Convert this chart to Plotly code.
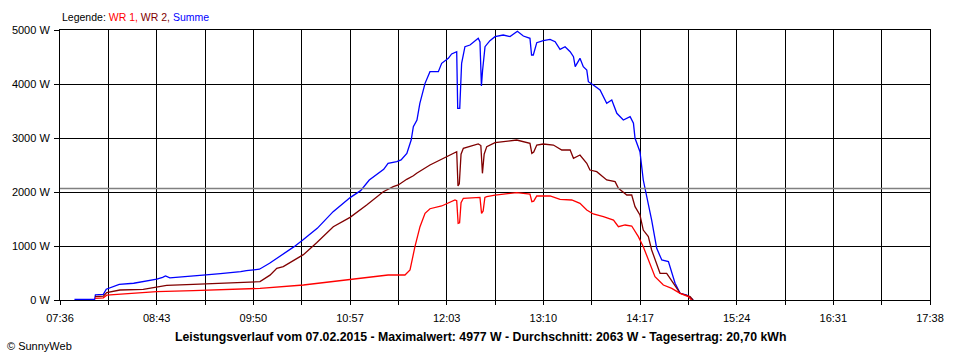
import plotly.graph_objects as go

# ---- data (time in minutes since midnight, power in W) ----
summe_t = [466, 474, 480, 480.5, 486, 488, 497, 507, 514, 523, 527, 529, 532, 544, 557, 567, 572, 581, 585, 594,
           601, 606, 610, 618, 624, 634, 645, 657, 664, 670, 680, 683, 689, 692, 696, 699, 700.5, 703, 705,
           708.6, 712, 717.8, 720.1, 724.7, 727, 730.5, 731.2, 732.6, 733.9, 736.2, 739.7, 745.4, 746.6, 747.6,
           748.4, 750.1, 753.5, 757, 762.7, 767.4, 772.5, 776.6, 781.2, 782.3, 783.5, 785.9, 790.4, 795.1, 798.6,
           802, 805.5, 809, 811.3, 812.5, 815.8, 818.1, 820.5, 821.6, 825, 829.7, 834.3, 837.8, 841.3, 845.8,
           850.5, 852.8, 853.9, 857.3, 859.6, 862, 865.4, 868.9, 872.4, 877, 879.3, 881.6, 885.1, 889.7, 894.2]
summe_w = [10, 5, 10, 95, 105, 200, 290, 310, 340, 385, 420, 444, 410, 432, 465, 490, 500, 525, 545, 570,
           680, 770, 835, 988, 1111, 1327, 1636, 1901, 2025, 2222, 2420, 2531, 2562, 2593, 2716, 2963, 3210, 3333, 3642,
           4012, 4228, 4228, 4383, 4475, 4556, 4598, 3549, 3549, 4383, 4691, 4722, 4846, 4780, 3963,
           4250, 4691, 4802, 4877, 4907, 4877, 4977, 4889, 4846, 4537, 4537, 4765, 4802, 4827, 4784,
           4642, 4691, 4598, 4506, 4321, 4475, 4321, 4259, 4043, 3981, 3889, 3642, 3704, 3457, 3333,
           3395, 3272, 2994, 2747, 2222, 1913, 1481, 957, 741, 710, 494, 309, 124, 93, 0]

wr2_t = [480.2, 486, 488.3, 497.5, 513.6, 522.9, 529.8, 548.2, 566.7, 580.6, 594.4, 601.3, 606, 610.5, 624.4,
         633.6, 645.1, 656.7, 668.2, 679.7, 686.6, 690.1, 695.9, 700.5, 702.8, 712, 723.6, 730.5, 731.4, 732.3,
         733.5, 735.1, 745.4, 747.2, 748.3, 749.5, 751.3, 757, 772, 781.2, 782.5, 783.8, 785.9, 790.4, 797.4,
         803.2, 809, 811.3, 815.8, 820.5, 822.7, 827.4, 834.3, 840.1, 842.4, 848.2, 851.6, 853.9, 857.3, 859.6,
         863.1, 865.4, 871.2, 875.8, 880.5, 885.1, 892, 894]
wr2_w = [62, 70, 136, 185, 198, 240, 272, 290, 309, 327, 340, 460, 586, 617, 840,
         1060, 1358, 1530, 1759, 2006, 2099, 2130, 2235, 2300, 2346, 2500, 2654, 2747, 2111, 2150,
         2700, 2809, 2889, 2860, 2346, 2700, 2840, 2914, 2963, 2900, 2716, 2740, 2870, 2889, 2870,
         2778, 2778, 2624, 2685, 2531, 2407, 2377, 2222, 2191, 2068, 1944, 1944, 1728, 1574, 1296,
         1173, 926, 494, 494, 309, 124, 62, 0]

wr1_t = [480.2, 486, 488.3, 497.5, 506.7, 522.9, 548.2, 572.3, 594.4, 624.4, 656.7, 679.7, 683, 694.7, 698.2,
         701.6, 705.1, 708.6, 712, 720.1, 729.3, 730.5, 731.5, 732.5, 733.5, 735.1, 746.6, 747.7, 748.8, 750,
         751.3, 757, 772, 781.2, 782.5, 783.8, 785.9, 795.1, 802, 810.1, 815.8, 820.5, 825, 832, 839, 842.4,
         847, 851.6, 856.2, 859.6, 863.1, 867.7, 873.5, 879.3, 885.1, 890.8, 893]
wr1_w = [31, 40, 90, 110, 124, 154, 173, 198, 216, 278, 383, 444, 463, 463, 556,
         988, 1358, 1605, 1690, 1741, 1852, 1840, 1420, 1430, 1800, 1883, 1900, 1605, 1650, 1900,
         1913, 1944, 1988, 1960, 1821, 1830, 1926, 1926, 1864, 1852, 1790, 1667, 1593, 1543, 1481, 1358,
         1389, 1370, 1173, 988, 741, 432, 278, 216, 124, 62, 0]

x_tick_labels = ["07:36", "", "08:43", "", "09:50", "", "10:57", "", "12:03", "", "13:10", "",
                 "14:17", "", "15:24", "", "16:31", "", "17:38"]
y_tick_values = [0, 1000, 2000, 3000, 4000, 5000]
average_w = 2063
t_start, t_end = 456, 1058

FONT = "Liberation Sans, Arial, sans-serif"

fig = go.Figure()
fig.add_trace(go.Scatter(x=summe_t, y=summe_w, mode="lines", name="Summe",
                         line=dict(color="#0000FF", width=1.3)))
fig.add_trace(go.Scatter(x=wr2_t, y=wr2_w, mode="lines", name="WR 2",
                         line=dict(color="#800000", width=1.3)))
fig.add_trace(go.Scatter(x=wr1_t, y=wr1_w, mode="lines", name="WR 1",
                         line=dict(color="#FF0000", width=1.3)))

n = len(x_tick_labels) - 1
tickvals = [t_start + i * (t_end - t_start) / n for i in range(n + 1)]

fig.add_shape(type="line", xref="paper", x0=0, x1=1, yref="y", y0=average_w, y1=average_w,
              line=dict(color="#808080", width=1.5), layer="above")

fig.update_layout(
    width=960, height=360,
    margin=dict(l=60, r=30, t=30, b=60),
    paper_bgcolor="white", plot_bgcolor="white",
    showlegend=False,
    font=dict(family=FONT, size=11, color="black"),
    xaxis=dict(range=[t_start, t_end], tickvals=tickvals, ticktext=x_tick_labels,
               showgrid=True, gridcolor="black", gridwidth=1,
               ticks="outside", ticklen=4, tickcolor="black", tickwidth=1,
               showline=True, linecolor="black", linewidth=1, mirror=True,
               zeroline=False, ticklabelstandoff=4,
               tickfont=dict(family=FONT, size=11, color="black")),
    yaxis=dict(range=[0, 5000], tickvals=y_tick_values,
               ticktext=[f"{v} W" for v in y_tick_values],
               showgrid=True, gridcolor="black", gridwidth=1,
               ticks="outside", ticklen=5, tickcolor="black", tickwidth=1,
               showline=True, linecolor="black", linewidth=1, mirror=True,
               zeroline=False, ticklabelstandoff=2,
               tickfont=dict(family=FONT, size=11, color="black")),
)

fig.add_annotation(xref="paper", yref="paper", x=0, y=(300 - 17) / 270, xanchor="left", yanchor="middle",
                   showarrow=False, font=dict(family=FONT, size=10.5, color="black"),
                   text="Legende: <span style='color:#FF0000'>WR 1,</span> "
                        "<span style='color:#800000'>WR 2,</span> "
                        "<span style='color:#0000FF'>Summe</span>")

fig.add_annotation(xref="paper", yref="paper", x=(480 - 60) / 870, y=(300 - 337) / 270,
                   xanchor="center", yanchor="middle", showarrow=False,
                   font=dict(family=FONT, size=12.3, color="black"),
                   text="<b>Leistungsverlauf vom 07.02.2015 - Maximalwert: 4977 W - "
                        "Durchschnitt: 2063 W - Tagesertrag: 20,70 kWh</b>")

fig.add_annotation(xref="paper", yref="paper", x=(5 - 60) / 870, y=(300 - 346) / 270,
                   xanchor="left", yanchor="middle", showarrow=False,
                   font=dict(family=FONT, size=11, color="black"),
                   text="© SunnyWeb")

fig.write_html("out.html", config={"displayModeBar": False},
               post_script="document.body.style.margin='0px';document.body.style.overflow='hidden';")
